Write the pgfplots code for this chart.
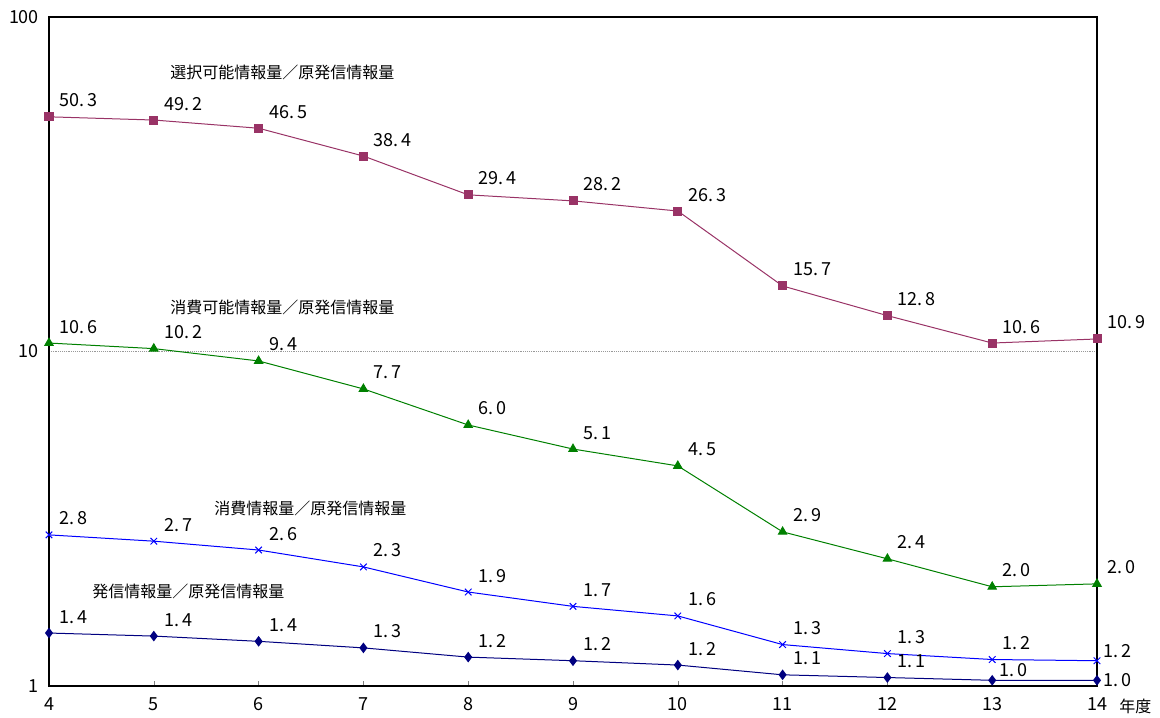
\documentclass[border=0pt]{standalone}
\usepackage{pgfplots}
\pgfplotsset{compat=1.18}
\usepackage{fontspec}
\setmainfont{Noto Sans CJK JP}
\definecolor{cPurple}{HTML}{993366}
\definecolor{cGreen}{HTML}{008000}
\definecolor{cBlue}{HTML}{0000FF}
\definecolor{cNavy}{HTML}{000080}
\newcommand\dd{.\kern2.2bp}
\newcommand\numfont{\fontsize{13.5bp}{15bp}\selectfont}
\begin{document}
\begin{tikzpicture}[x=1bp,y=1bp]
\begin{axis}[
 at={(0,0)}, anchor=south west,
 scale only axis, width=786bp, height=501.75bp,
 ymode=log, ymin=1, ymax=100,
 xmin=4, xmax=14,
 xtick={4,5,6,7,8,9,10,11,12,13,14},
 xtick pos=bottom, xtick align=inside,
 major tick length=4bp,
 ytick={1,10,100}, yticklabels={1,10,100},
 yminorticks=false, ytick style={draw=none},
 ymajorgrids, grid style={densely dotted, gray!80, line width=0.6bp},
 axis line style={line width=0.8bp},
 tick label style={font=\numfont},
 yticklabel style={xshift=-4bp},
 xticklabel style={yshift=-5bp},
 /pgf/number format/assume math mode=true,
 every axis plot/.append style={line width=0.75bp},
 nodes near coords, point meta=explicit symbolic,
 every node near coord/.style={anchor=base west, inner sep=0pt, xshift=7.5bp, yshift=7.5bp, font=\numfont, text=black},
 clip=false,
]
\addplot[color=cPurple, mark=square*, mark size=3bp] coordinates {
 (4,50.3) [50\dd3] (5,49.2) [49\dd2] (6,46.5) [46\dd5] (7,38.4) [38\dd4] (8,29.4) [29\dd4]
 (9,28.2) [28\dd2] (10,26.3) [26\dd3] (11,15.7) [15\dd7] (12,12.8) [12\dd8] (13,10.6) [10\dd6] (14,10.9) [10\dd9]
};
\addplot[color=cGreen, mark=triangle*, mark size=3.6bp] coordinates {
 (4,10.6) [10\dd6] (5,10.2) [10\dd2] (6,9.37) [9\dd4] (7,7.73) [7\dd7] (8,6.03) [6\dd0]
 (9,5.11) [5\dd1] (10,4.55) [4\dd5] (11,2.89) [2\dd9] (12,2.40) [2\dd4] (13,1.98) [2\dd0] (14,2.02) [2\dd0]
};
\addplot[color=cBlue, mark=x, mark size=3.5bp] coordinates {
 (4,2.83) [2\dd8] (5,2.71) [2\dd7] (6,2.55) [2\dd6] (7,2.27) [2\dd3] (8,1.91) [1\dd9]
 (9,1.73) [1\dd7] (10,1.62) [1\dd6] (11,1.33) [1\dd3] (12,1.25) [1\dd3] (13,1.20) [1\dd2] (14,1.19) []
};
\addplot[color=cNavy, mark=diamond*, mark size=3.4bp] coordinates {
 (4,1.44) [1\dd4] (5,1.41) [1\dd4] (6,1.36) [1\dd4] (7,1.30) [1\dd3] (8,1.22) [1\dd2]
 (9,1.19) [1\dd2] (10,1.155) [1\dd2] (11,1.08) [1\dd1] (12,1.06) [1\dd1] (13,1.04) [] (14,1.04) []
};
\node[anchor=base west, inner sep=0pt, font=\numfont] at ([xshift=4.5bp,yshift=2.5bp]axis cs:14,1.19) {1\dd2};
\node[anchor=base west, inner sep=0pt, font=\numfont] at ([xshift=5bp,yshift=3bp]axis cs:13,1.04) {1\dd0};
\node[anchor=west, inner sep=0pt, font=\numfont] at ([xshift=4.5bp]axis cs:14,1.04) {1\dd0};
\end{axis}
\begin{scope}[every node/.style={anchor=west, inner sep=0pt, font=\fontsize{12bp}{14bp}\selectfont}]
\node at (90.75,460.5) {選択可能情報量／原発信情報量};
\node at (90.75,284.25) {消費可能情報量／原発信情報量};
\node at (123.75,133.5) {消費情報量／原発信情報量};
\node at (32.25,71.25) {発信情報量／原発信情報量};
\node at (802.5,-15) {年度};
\end{scope}
\pgfresetboundingbox
\path[use as bounding box] (-36.75bp,-24bp) rectangle (833.25bp,514.5bp);
\end{tikzpicture}
\end{document}
